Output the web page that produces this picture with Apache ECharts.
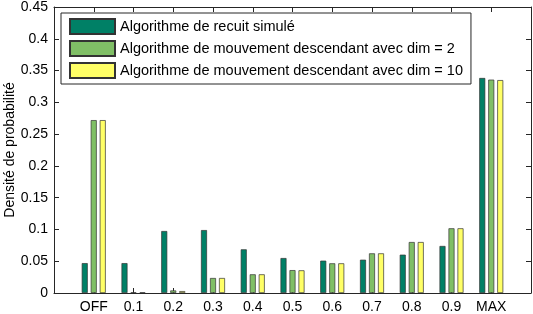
<!DOCTYPE html>
<html>
<head>
<meta charset="utf-8">
<script src="https://cdn.jsdelivr.net/npm/echarts@6/dist/echarts.min.js"></script>
<style>html,body{margin:0;padding:0;background:#fff;}#c{width:533px;height:314px;}</style>
</head>
<body>
<div id="c"></div>
<script>
var categories = ['OFF','0.1','0.2','0.3','0.4','0.5','0.6','0.7','0.8','0.9','MAX'];
var seriesNames = ['Algorithme de recuit simulé','Algorithme de mouvement descendant avec dim = 2','Algorithme de mouvement descendant avec dim = 10'];
var recuit = [0.047, 0.047, 0.0975, 0.099, 0.0687, 0.055, 0.0509, 0.0524, 0.0603, 0.074, 0.3383];
var dim2 = [0.272, 0.001, 0.004, 0.0236, 0.0294, 0.036, 0.0467, 0.0624, 0.0802, 0.1018, 0.3357];
var dim10 = [0.272, 0.001, 0.003, 0.0236, 0.0294, 0.0357, 0.0467, 0.0624, 0.0802, 0.1018, 0.335];
var yTicks = [0, 0.05, 0.1, 0.15, 0.2, 0.25, 0.3, 0.35, 0.4, 0.45];
var colors = ['#008066', '#80bf66', '#ffff66'];

function toPairs(arr){ return arr.map(function(v,i){ return [i+1, v]; }); }
var font = '"Liberation Sans", Arial, sans-serif';
var chart = echarts.init(document.getElementById('c'));
var axisLineStyle = {color:'#262626', width:1};
var allData = [recuit, dim2, dim10];
chart.setOption({
  animation:false,
  grid:{left:54, right:2, top:7, bottom:21, containLabel:false, outerBoundsMode:'none'},
  legend:{
    orient:'vertical', left:61, top:13,
    padding:[5,8,5,8],
    icon:'rect',
    itemWidth:45, itemHeight:15, itemGap:5,
    borderColor:'#262626', borderWidth:1, backgroundColor:'#fff',
    textStyle:{fontFamily:font, fontSize:14.5, color:'#000'},
    data:seriesNames
  },
  xAxis:[{
    type:'value', min:0, max:categories.length+1, interval:1, position:'bottom',
    axisLine:{show:true, onZero:false, lineStyle:axisLineStyle},
    axisTick:{show:true, inside:true, length:5, lineStyle:axisLineStyle},
    splitLine:{show:false},
    axisLabel:{fontFamily:font, fontSize:14, color:'#000', margin:7,
      formatter:function(v){ var i=Math.round(v)-1; return (i>=0&&i<categories.length)?categories[i]:''; }}
  },{
    type:'value', min:0, max:categories.length+1, interval:1, position:'top',
    axisLine:{show:true, onZero:false, lineStyle:axisLineStyle},
    axisTick:{show:true, inside:true, length:5, lineStyle:axisLineStyle},
    splitLine:{show:false}, axisLabel:{show:false}
  }],
  yAxis:[{
    type:'value', min:0, max:0.45, interval:0.05, position:'left',
    name:'Densité de probabilité', nameLocation:'middle', nameGap:37, nameMoveOverlap:false,
    nameTextStyle:{fontFamily:font, fontSize:14, color:'#000'},
    axisLine:{show:true, onZero:false, lineStyle:axisLineStyle},
    axisTick:{show:true, inside:true, length:5, lineStyle:axisLineStyle},
    splitLine:{show:false},
    axisLabel:{fontFamily:font, fontSize:14, color:'#000', margin:6,
      formatter:function(v){ return String(Math.round(v*100)/100); }}
  },{
    type:'value', min:0, max:0.45, interval:0.05, position:'right',
    axisLine:{show:true, onZero:false, lineStyle:axisLineStyle},
    axisTick:{show:true, inside:true, length:5, lineStyle:axisLineStyle},
    splitLine:{show:false}, axisLabel:{show:false}
  }],
  series: seriesNames.map(function(n,k){
    return {
      name:n, type:'bar', xAxisIndex:0, yAxisIndex:0,
      barWidth:6, barGap:'50%',
      itemStyle:{color:colors[k], borderColor:'#333', borderWidth:0.7},
      data: toPairs(allData[k])
    };
  })
});
</script>
</body>
</html>
